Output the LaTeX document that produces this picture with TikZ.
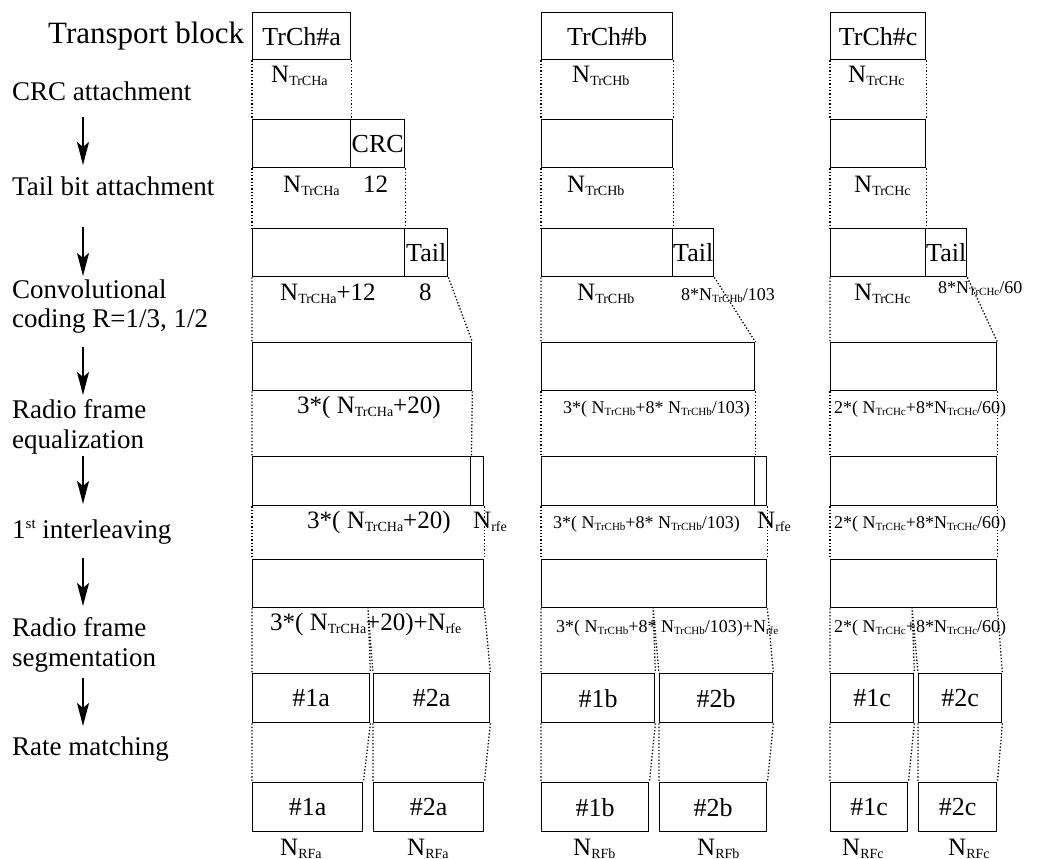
\documentclass[tikz,border=0pt]{standalone}
\usepackage{fontspec}
\setmainfont{Liberation Serif}
\usetikzlibrary{arrows.meta}

% type sizes
\newcommand\szL{\fontsize{25}{30}\selectfont}
\newcommand\szB{\fontsize{26}{31}\selectfont}
\newcommand\szM{\fontsize{27}{32}\selectfont}
\newcommand\szS{\fontsize{18}{22}\selectfont}
\newcommand\szT{\fontsize{31}{36}\selectfont}
\newcommand\sbL[1]{\raisebox{-3pt}{\fontsize{14}{14}\selectfont #1}}
\newcommand\sbS[1]{\raisebox{-2pt}{\fontsize{11}{11}\selectfont #1}}
\newcommand\supL[1]{\raisebox{10pt}{\fontsize{15}{15}\selectfont #1}}

% bit block: name, left, top, right, bottom, text
\newcommand\bx[6]{\node[blk, minimum width={(#4-#2)*1pt}, minimum height={(#5-#3)*1pt}] (#1) at (#2,#3) {#6};}

\tikzset{
  blk/.style={draw, line width=1.4pt, inner sep=0pt, font=\szB, anchor=north west},
  dots/.style={line width=1.3pt, dash pattern=on 1.3pt off 2pt},
  lbl/.style={inner sep=0pt, anchor=base west, font=\szL},
  step label/.style={inner sep=0pt, anchor=base west, font=\szM},
  slbl/.style={inner sep=0pt, anchor=base west, font=\szS},
  flow/.style={line width=2pt, -{Stealth[length=23pt,width=12pt,inset=5pt]}}
}

\begin{document}
\begin{tikzpicture}[x=1pt, y=-1pt]
\useasboundingbox[fill=white] (0,0) rectangle (1037,859);

% ---------------- processing steps ----------------
\node[step label, font=\szT] (s0) at (48,44) {Transport block};
\node[step label] (s1) at (12,100) {CRC attachment};
\node[step label] (s2) at (12,195) {Tail bit attachment};
\node[step label] (s3a) at (12,298) {Convolutional};
\node[step label] (s3b) at (12,327) {coding R=1/3, 1/2};
\node[step label] (s4a) at (12,418) {Radio frame};
\node[step label] (s4b) at (12,448) {equalization};
\node[step label] (s5) at (12,538) {1\supL{st} interleaving};
\node[step label] (s6a) at (12,636) {Radio frame};
\node[step label] (s6b) at (12,666) {segmentation};
\node[step label] (s7) at (12,755) {Rate matching};

\foreach \t/\b [count=\i] in {117/165, 227/276, 347/395, 456/504, 558/606, 678/726}{
  \coordinate (f\i s) at (83,\t);
  \coordinate (f\i e) at (83,\b);
  \draw[flow] (f\i s) -- (f\i e);
}

% ---------------- transport channel a ----------------
\bx{a1}{252}{12}{350}{59}{TrCh\#a}
\bx{a2l}{252}{119}{350}{167}{}
\bx{a2r}{350}{119}{404}{167}{CRC}
\bx{a3l}{252}{228}{404}{276}{}
\bx{a3r}{404}{228}{447}{276}{Tail}
\bx{a4}{252}{342}{471}{390}{}
\bx{a5l}{252}{456}{470}{505}{}
\bx{a5r}{470}{456}{483}{505}{}
\bx{a6}{252}{559}{483}{607}{}
\bx{a7l}{252}{673}{369}{722}{\#1a}
\bx{a7r}{373}{673}{489}{722}{\#2a}
\bx{a8l}{252}{782}{362}{831}{\#1a}
\bx{a8r}{373}{782}{483}{831}{\#2a}
\coordinate (a6m) at (368,607);

\draw[dots] (a1.south west) -- (a2l.north west) (a1.south east) -- (a2l.north east);
\draw[dots] (a2l.south west) -- (a3l.north west) (a2r.south east) -- (a3l.north east);
\draw[dots] (a3l.south west) -- (a4.north west) (a3r.south east) -- (a4.north east);
\draw[dots] (a4.south west) -- (a5l.north west) (a4.south east) -- (a5l.north east);
\draw[dots] (a5l.south west) -- (a6.north west) (a5r.south east) -- (a6.north east);
\draw[dots] (a6.south west) -- (a7l.north west) (a6m) -- (a7l.north east)
            (a6m) -- (a7r.north west) (a6.south east) -- (a7r.north east);
\draw[dots] (a7l.south west) -- (a8l.north west) (a7l.south east) -- (a8l.north east)
            (a7r.south west) -- (a8r.north west) (a7r.south east) -- (a8r.north east);

\node[lbl] (na1) at (271,83) {N\sbL{TrCHa}};
\node[lbl] (na2) at (283,192) {N\sbL{TrCHa}};
\node[lbl] (na2c) at (363,192) {12};
\node[lbl] (na3) at (280,300) {N\sbL{TrCHa}+12};
\node[lbl] (na3t) at (419,300) {8};
\node[lbl] (na4) at (297,413) {3*( N\sbL{TrCHa}+20)};
\node[lbl] (na5) at (307,528) {3*( N\sbL{TrCHa}+20)};
\node[lbl] (na5r) at (473,528) {N\sbL{rfe}};
\node[lbl] (na6) at (270,630) {3*( N\sbL{TrCHa}+20)+N\sbL{rfe}};
\node[lbl] (na8l) at (280,855) {N\sbL{RFa}};
\node[lbl] (na8r) at (407,855) {N\sbL{RFa}};

% ---------------- transport channel b ----------------
\bx{b1}{541}{12}{672}{59}{TrCh\#b}
\bx{b2}{541}{119}{672}{167}{}
\bx{b3l}{541}{228}{672}{276}{}
\bx{b3r}{672}{228}{713}{276}{Tail}
\bx{b4}{541}{342}{754}{390}{}
\bx{b5l}{541}{456}{754}{505}{}
\bx{b5r}{754}{456}{766}{505}{}
\bx{b6}{541}{559}{766}{607}{}
\bx{b7l}{541}{673}{654}{722}{\#1b}
\bx{b7r}{659}{673}{772}{722}{\#2b}
\bx{b8l}{541}{782}{648}{831}{\#1b}
\bx{b8r}{659}{782}{766}{831}{\#2b}
\coordinate (b6m) at (653,607);

\draw[dots] (b1.south west) -- (b2.north west) (b1.south east) -- (b2.north east);
\draw[dots] (b2.south west) -- (b3l.north west) (b2.south east) -- (b3l.north east);
\draw[dots] (b3l.south west) -- (b4.north west) (b3r.south east) -- (b4.north east);
\draw[dots] (b4.south west) -- (b5l.north west) (b4.south east) -- (b5l.north east);
\draw[dots] (b5l.south west) -- (b6.north west) (b5r.south east) -- (b6.north east);
\draw[dots] (b6.south west) -- (b7l.north west) (b6m) -- (b7l.north east)
            (b6m) -- (b7r.north west) (b6.south east) -- (b7r.north east);
\draw[dots] (b7l.south west) -- (b8l.north west) (b7l.south east) -- (b8l.north east)
            (b7r.south west) -- (b8r.north west) (b7r.south east) -- (b8r.north east);

\node[lbl] (nb1) at (572,83) {N\sbL{TrCHb}};
\node[lbl] (nb2) at (567,192) {N\sbL{TrCHb}};
\node[lbl] (nb3) at (577,300) {N\sbL{TrCHb}};
\node[slbl] (nb3t) at (681,300) {8*N\sbS{TrCHb}/103};
\node[slbl] (nb4) at (563,413) {3*( N\sbS{TrCHb}+8* N\sbS{TrCHb}/103)};
\node[slbl] (nb5) at (553,528) {3*( N\sbS{TrCHb}+8* N\sbS{TrCHb}/103)};
\node[lbl] (nb5r) at (757,528) {N\sbL{rfe}};
\node[slbl] (nb6) at (556,632) {3*( N\sbS{TrCHb}+8* N\sbS{TrCHb}/103)+N\sbS{rfe}};
\node[lbl] (nb8l) at (573,855) {N\sbL{RFb}};
\node[lbl] (nb8r) at (697,855) {N\sbL{RFb}};

% ---------------- transport channel c ----------------
\bx{c1}{830}{12}{925}{59}{TrCh\#c}
\bx{c2}{830}{119}{925}{167}{}
\bx{c3l}{830}{228}{925}{276}{}
\bx{c3r}{925}{228}{966}{276}{Tail}
\bx{c4}{830}{342}{996}{390}{}
\bx{c5}{830}{456}{996}{505}{}
\bx{c6}{830}{559}{996}{607}{}
\bx{c7l}{830}{673}{913}{722}{\#1c}
\bx{c7r}{918}{673}{1001}{722}{\#2c}
\bx{c8l}{830}{782}{907}{831}{\#1c}
\bx{c8r}{918}{782}{996}{831}{\#2c}
\coordinate (c6m) at (912,607);

\draw[dots] (c1.south west) -- (c2.north west) (c1.south east) -- (c2.north east);
\draw[dots] (c2.south west) -- (c3l.north west) (c2.south east) -- (c3l.north east);
\draw[dots] (c3l.south west) -- (c4.north west) (c3r.south east) -- (c4.north east);
\draw[dots] (c4.south west) -- (c5.north west) (c4.south east) -- (c5.north east);
\draw[dots] (c5.south west) -- (c6.north west) (c5.south east) -- (c6.north east);
\draw[dots] (c6.south west) -- (c7l.north west) (c6m) -- (c7l.north east)
            (c6m) -- (c7r.north west) (c6.south east) -- (c7r.north east);
\draw[dots] (c7l.south west) -- (c8l.north west) (c7l.south east) -- (c8l.north east)
            (c7r.south west) -- (c8r.north west) (c7r.south east) -- (c8r.north east);

\node[lbl] (nc1) at (848,83) {N\sbL{TrCHc}};
\node[lbl] (nc2) at (854,192) {N\sbL{TrCHc}};
\node[lbl] (nc3) at (854,300) {N\sbL{TrCHc}};
\node[slbl] (nc3t) at (938,293) {8*N\sbS{TrCHc}/60};
\node[slbl] (nc4) at (834,413) {2*( N\sbS{TrCHc}+8*N\sbS{TrCHc}/60)};
\node[slbl] (nc5) at (834,528) {2*( N\sbS{TrCHc}+8*N\sbS{TrCHc}/60)};
\node[slbl] (nc6) at (834,632) {2*( N\sbS{TrCHc}+8*N\sbS{TrCHc}/60)};
\node[lbl] (nc8l) at (842,855) {N\sbL{RFc}};
\node[lbl] (nc8r) at (948,855) {N\sbL{RFc}};
\end{tikzpicture}
\end{document}
